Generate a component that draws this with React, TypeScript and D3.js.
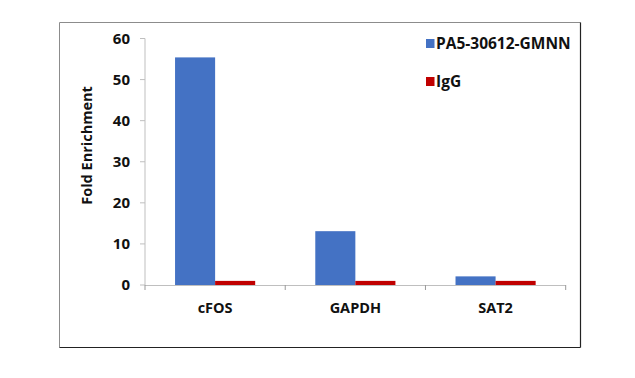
import React from "react";
import * as d3 from "d3";

const categories = ["cFOS", "GAPDH", "SAT2"];
const seriesNames = ["PA5-30612-GMNN", "IgG"];
const seriesColors = ["#4472C4", "#C00000"];
const gmnnValues = [55.4, 13.1, 2.1];
const iggValues = [1.0, 1.0, 1.0];
const yTicks = [0, 10, 20, 30, 40, 50, 60];

const W = 635;
const H = 378;
const FONT = "'Open Sans', Lato, sans-serif";

export default function App() {
  const plotLeft = 145;
  const plotRight = 565.7;
  const y0 = 285;
  const yTop = 38.5;

  const x = d3.scaleBand<string>().domain(categories).range([plotLeft, plotRight]).paddingInner(0).paddingOuter(0);
  const inner = d3.scaleBand<string>().domain(seriesNames).range([0, x.bandwidth()]).paddingInner(0).paddingOuter(0.75);
  const y = d3.scaleLinear().domain([0, 60]).range([y0, yTop]);

  const series = [gmnnValues, iggValues];
  const tickXs = [plotLeft, ...categories.map((c) => (x(c) as number) + x.bandwidth())];

  return (
    <svg width={W} height={H} style={{ position: "absolute", left: 0, top: 0 }}>
      <rect x={0} y={0} width={W} height={H} fill="#fff" />
      {/* chart frame */}
      <line x1={59.5} y1={22.5} x2={580.5} y2={22.5} stroke="#8c8c8c" strokeWidth={1} />
      <line x1={59.5} y1={22.5} x2={59.5} y2={347.5} stroke="#8c8c8c" strokeWidth={1} />
      <line x1={59.5} y1={347.5} x2={580.5} y2={347.5} stroke="#222" strokeWidth={1.2} />
      <line x1={580.5} y1={22.5} x2={580.5} y2={347.5} stroke="#222" strokeWidth={1.2} />

      {/* y axis */}
      <line x1={plotLeft} y1={yTop} x2={plotLeft} y2={y0} stroke="#bfbfbf" />
      {yTicks.map((t) => (
        <g key={t}>
          <line x1={plotLeft - 5} x2={plotLeft} y1={y(t)} y2={y(t)} stroke="#bfbfbf" />
          <text x={130} y={y(t)} dy="0.36em" textAnchor="end" fontFamily={FONT} fontWeight="bold" fontSize={15} fill="#111">
            {t}
          </text>
        </g>
      ))}
      <text
        transform={`translate(92, ${(88 + 203) / 2}) rotate(-90)`}
        textAnchor="middle"
        fontFamily={FONT}
        fontWeight="bold"
        fontSize={14.5}
        fill="#111"
      >
        Fold Enrichment
      </text>

      {/* bars */}
      {categories.map((c, i) => (
        <g key={c}>
          {series.map((vals, s) => (
            <rect
              key={s}
              x={(x(c) as number) + (inner(seriesNames[s]) as number)}
              y={y(vals[i])}
              width={inner.bandwidth()}
              height={y0 - y(vals[i])}
              fill={seriesColors[s]}
            />
          ))}
        </g>
      ))}

      {/* x axis */}
      <line x1={plotLeft} x2={plotRight} y1={y0 + 0.5} y2={y0 + 0.5} stroke="#bfbfbf" />
      {tickXs.map((tx, i) => (
        <line key={i} x1={tx} x2={tx} y1={y0} y2={y0 + 5} stroke="#999" />
      ))}
      {categories.map((c) => (
        <text
          key={c}
          x={(x(c) as number) + x.bandwidth() / 2}
          y={313}
          textAnchor="middle"
          fontFamily={FONT}
          fontWeight="bold"
          fontSize={14.5}
          fill="#111"
        >
          {c}
        </text>
      ))}

      {/* legend */}
      {seriesNames.map((n, i) => (
        <g key={n} transform={`translate(426, ${39 + i * 38})`}>
          <rect x={0} y={0} width={8.5} height={9} fill={seriesColors[i]} />
          <text x={10} y={9.8} fontFamily={FONT} fontWeight="bold" fontSize={15.5} fill="#111">
            {n}
          </text>
        </g>
      ))}
    </svg>
  );
}
